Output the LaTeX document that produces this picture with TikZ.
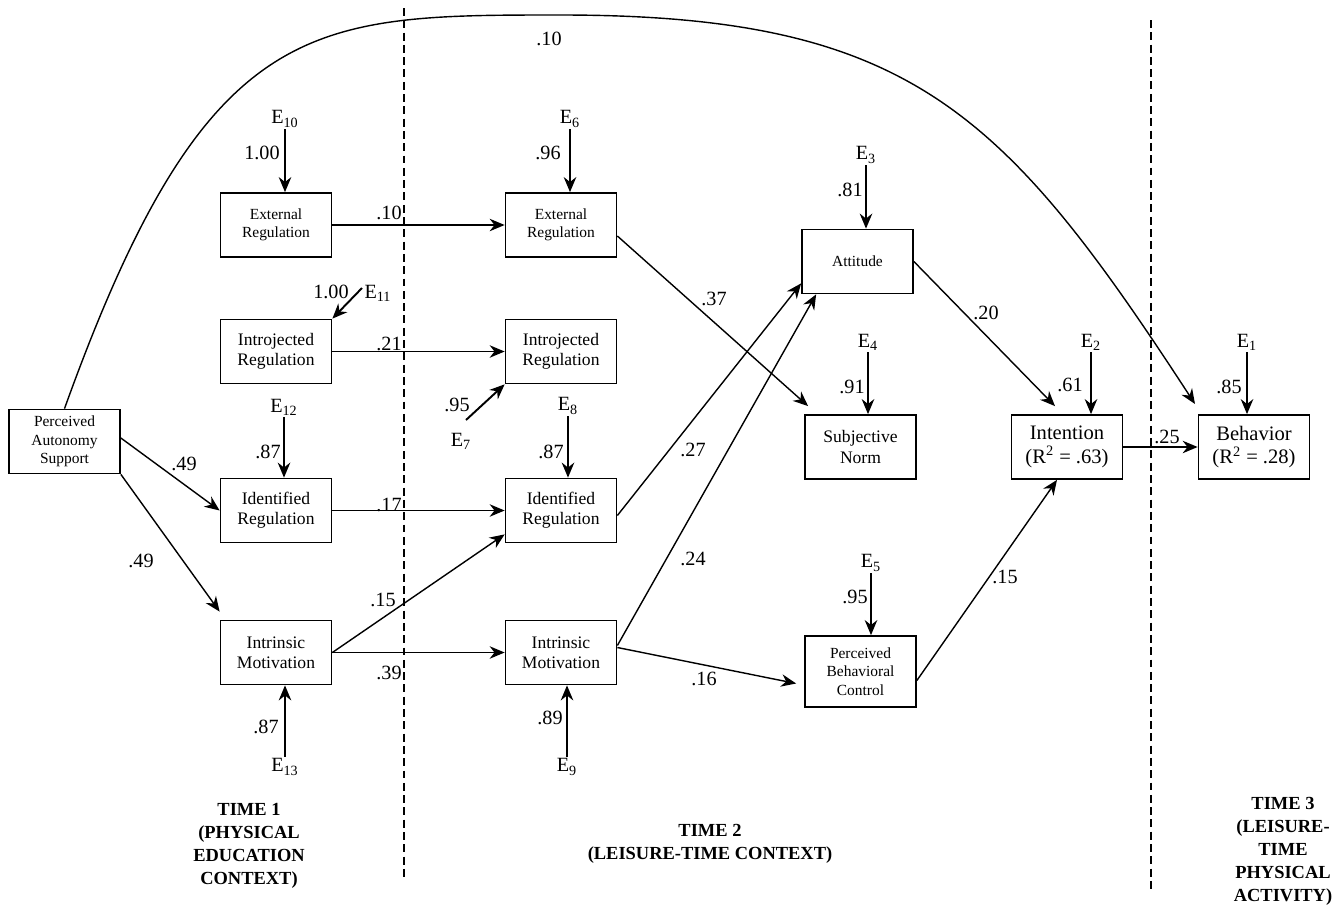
\documentclass[tikz,border=0pt]{standalone}
\usepackage{fontspec}
\setmainfont{Liberation Serif}
\usetikzlibrary{arrows.meta,positioning}

\tikzset{
  box/.style={draw, line width=1pt, minimum width=2.22cm, minimum height=1.28cm, inner sep=1pt, align=center, font=\fontsize{10}{11.5}\selectfont},
  smallbox/.style={box, font=\fontsize{8.8}{10.4}\selectfont},
  link/.style={-{Stealth[length=3mm,width=2.5mm]}, line width=0.8pt},
  errlink/.style={link, line width=1.1pt},
  coef/.style={inner sep=1pt, font=\fontsize{11.5}{13}\selectfont},
  timelbl/.style={align=center, font=\bfseries\fontsize{10.5}{13.1}\selectfont},
  divider/.style={dash pattern=on 4.5pt off 2.5pt, line width=0.7pt}
}

\begin{document}
\begin{tikzpicture}[x=0.02cm, y=-0.02cm]
  \useasboundingbox (0,0) rectangle (1339,913);

  % time dividers
  \draw[divider] (404,8) -- (404,878);
  \draw[divider] (1151,20) -- (1151,893);

  % nodes
  %time 1
  \node[smallbox] (pas) at (64.5,441.5) {Perceived\\Autonomy\\Support};
  \node[smallbox] (ext_reg_one) at (276,225) {External\\Regulation};
  \node[box] (intro_reg_one) at (276,351.5) {Introjected\\Regulation};
  \node[box] (id_reg_one) at (276,510.5) {Identified\\Regulation};
  \node[box] (intr_mot_one) at (276,652.5) {Intrinsic\\Motivation};
  %time 2
  \node[smallbox] (ext_reg_two) at (561,225) {External\\Regulation};
  \node[box] (intro_reg_two) at (561,351.5) {Introjected\\Regulation};
  \node[box] (id_reg_two) at (561,510.5) {Identified\\Regulation};
  \node[box] (intr_mot_two) at (561,652.5) {Intrinsic\\Motivation};
  \node[smallbox] (attitude) at (857.5,261.5) {Attitude};
  \node[box] (subj_norm) at (860.5,447) {Subjective\\Norm};
  \node[smallbox, minimum height=1.42cm] (pbc) at (860.5,671.5) {Perceived\\Behavioral\\Control};
  \node[box, font=\fontsize{11.7}{13.5}\selectfont] (intention) at (1067,447) {Intention\\(R\textsuperscript{2} = .63)};
  %time 3
  \node[box, font=\fontsize{11.7}{13.5}\selectfont] (behavior) at (1254,447) {Behavior\\(R\textsuperscript{2} = .28)};

  % error terms
  \node[coef] (e_ten) at (285,119) {E\textsubscript{10}};
  \node[coef] (e_eleven) at (378,293) {E\textsubscript{11}};
  \node[coef] (e_twelve) at (284,407) {E\textsubscript{12}};
  \node[coef] (e_thirteen) at (285,767) {E\textsubscript{13}};
  \node[coef] (e_six) at (570,119) {E\textsubscript{6}};
  \node[coef] (e_seven) at (461,441) {E\textsubscript{7}};
  \node[coef] (e_eight) at (568,406) {E\textsubscript{8}};
  \node[coef] (e_nine) at (567,767) {E\textsubscript{9}};
  \node[coef] (e_three) at (866,155) {E\textsubscript{3}};
  \node[coef] (e_four) at (868,342) {E\textsubscript{4}};
  \node[coef] (e_five) at (871,563) {E\textsubscript{5}};
  \node[coef] (e_two) at (1091,342) {E\textsubscript{2}};
  \node[coef] (e_one) at (1247,342) {E\textsubscript{1}};

  \coordinate (e_eleven_tail) at (362,288);
  \coordinate (e_seven_tail) at (466,420);
  \coordinate (beh_in) at (1195,404);

  % error loadings
  \node[coef] (w_ten) at (262,153) {1.00};
  \node[coef] (w_eleven) at (331,292) {1.00};
  \node[coef] (w_twelve) at (268,452) {.87};
  \node[coef] (w_thirteen) at (266,727) {.87};
  \node[coef] (w_six) at (548,153) {.96};
  \node[coef] (w_seven) at (457,405) {.95};
  \node[coef] (w_eight) at (551,452) {.87};
  \node[coef] (w_nine) at (550,718) {.89};
  \node[coef] (w_three) at (850,190) {.81};
  \node[coef] (w_four) at (852,387) {.91};
  \node[coef] (w_five) at (855,597) {.95};
  \node[coef] (w_two) at (1070,385) {.61};
  \node[coef] (w_one) at (1229,387) {.85};

  % path coefficients
  \node[coef] (c_pas_id) at (184,464) {.49};
  \node[coef] (c_pas_im) at (141,561) {.49};
  \node[coef] (c_pas_beh) at (549,39) {.10};
  \node[coef] (c_ext) at (389,213) {.10};
  \node[coef] (c_intro) at (389,344) {.21};
  \node[coef] (c_id) at (389,505) {.17};
  \node[coef] (c_im_id) at (383,600) {.15};
  \node[coef] (c_im) at (389,673) {.39};
  \node[coef] (c_ext_sn) at (714,299) {.37};
  \node[coef] (c_id_att) at (693,450) {.27};
  \node[coef] (c_im_att) at (693,559) {.24};
  \node[coef] (c_im_pbc) at (704,679) {.16};
  \node[coef] (c_att_int) at (986,313) {.20};
  \node[coef] (c_pbc_int) at (1005,577) {.15};
  \node[coef] (c_int_beh) at (1167,437) {.25};

  % time labels
  \node[timelbl] (time_one) at (249,846) {TIME 1\\(PHYSICAL\\EDUCATION\\CONTEXT)};
  \node[timelbl] (time_two) at (710,843.5) {TIME 2\\(LEISURE-TIME CONTEXT)};
  \node[timelbl] (time_three) at (1283,851) {TIME 3\\(LEISURE-\\TIME\\PHYSICAL\\ACTIVITY)};

  % edges
  \draw[link] ([yshift=0.07cm]pas.east) -- (id_reg_one.west);
  \draw[link] (pas.south east) -- ([yshift=0.16cm]intr_mot_one.north west);
  \draw[link] (pas.north) .. controls (206,15) and (310,15) .. (560,15)
                          .. controls (910,15) and (1004,111) .. (beh_in);
  \draw[link] (ext_reg_one) -- (ext_reg_two);
  \draw[link] (intro_reg_one) -- (intro_reg_two);
  \draw[link] (id_reg_one) -- (id_reg_two);
  \draw[link] (intr_mot_one) -- (intr_mot_two);
  \draw[link] (intr_mot_one.east) -- ([yshift=0.18cm]id_reg_two.south west);
  \draw[link] ([yshift=-0.22cm]ext_reg_two.east) -- ([xshift=0.08cm,yshift=0.16cm]subj_norm.north west);
  \draw[link] ([yshift=-0.1cm]id_reg_two.east) -- ([yshift=0.22cm]attitude.south west);
  \draw[link] ([yshift=0.14cm]intr_mot_two.east) -- ([xshift=0.3cm]attitude.south west);
  \draw[link] ([yshift=0.1cm]intr_mot_two.east) -- ([xshift=-0.16cm,yshift=-0.24cm]pbc.west);
  \draw[link] (attitude.east) -- ([xshift=-0.24cm,yshift=0.16cm]intention.north);
  \draw[link] ([yshift=-0.18cm]pbc.east) -- ([xshift=-0.2cm]intention.south);
  \draw[link] (intention) -- (behavior);

  % error arrows
  \draw[errlink] (e_ten) -- (e_ten |- ext_reg_one.north);
  \draw[errlink] (e_eleven_tail) -- (intro_reg_one.north east);
  \draw[errlink] (e_twelve) -- (e_twelve |- id_reg_one.north);
  \draw[errlink] (e_thirteen) -- (e_thirteen |- intr_mot_one.south);
  \draw[errlink] (e_six) -- (e_six |- ext_reg_two.north);
  \draw[errlink] (e_seven_tail) -- (intro_reg_two.south west);
  \draw[errlink] (e_eight) -- (e_eight |- id_reg_two.north);
  \draw[errlink] (e_nine) -- (e_nine |- intr_mot_two.south);
  \draw[errlink] (e_three) -- (e_three |- attitude.north);
  \draw[errlink] (e_four) -- (e_four |- subj_norm.north);
  \draw[errlink] (e_five) -- (e_five |- pbc.north);
  \draw[errlink] (e_two) -- (e_two |- intention.north);
  \draw[errlink] (e_one) -- (e_one |- behavior.north);
\end{tikzpicture}
\end{document}
